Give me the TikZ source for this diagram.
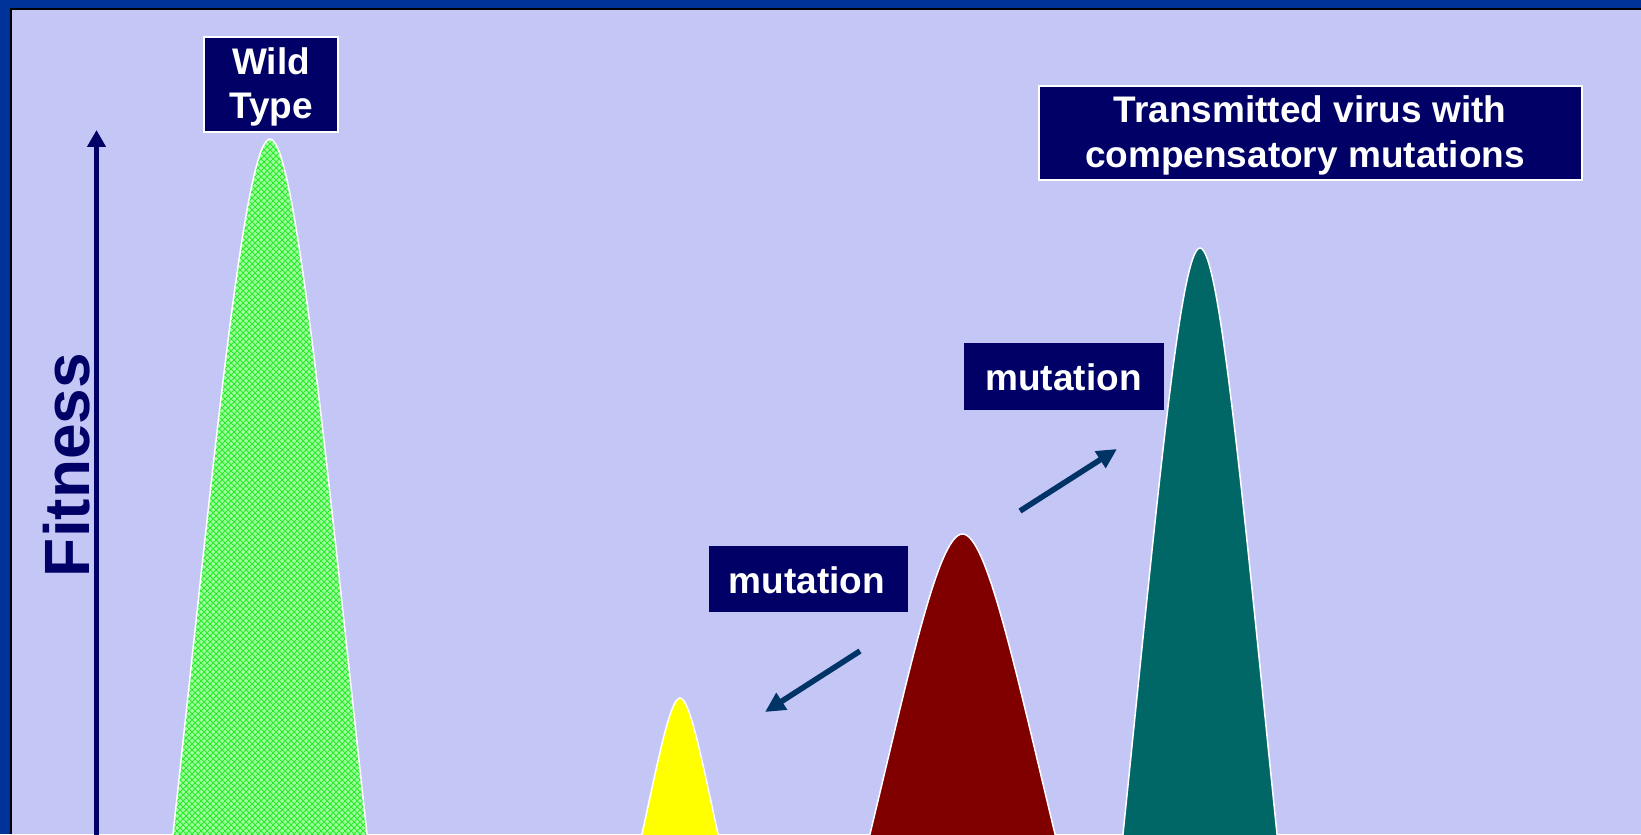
\documentclass[tikz,border=0pt]{standalone}
\usepackage{fontspec}
\setmainfont{Liberation Sans}
\usetikzlibrary{arrows.meta,patterns}
\definecolor{frameblue}{RGB}{0,51,153}
\definecolor{bglav}{RGB}{196,198,246}
\definecolor{navy}{RGB}{0,0,102}
\definecolor{arrblue}{RGB}{0,51,102}
\definecolor{wtgreen}{RGB}{160,255,160}
\definecolor{wtline}{RGB}{40,235,40}
\definecolor{peakyellow}{RGB}{255,255,0}
\definecolor{peakred}{RGB}{128,0,0}
\definecolor{peakteal}{RGB}{0,102,102}
\tikzset{
  labelbox/.style={fill=navy, inner sep=0pt},
  framedbox/.style={labelbox, draw=white, line width=0.6pt},
  boxtext/.style={text=white, font=\bfseries\fontsize{18.5}{22}\selectfont, inner sep=0pt, anchor=base},
  peakline/.style={draw=white, line width=0.75pt},
  mutarrow/.style={draw=arrblue, line width=2.8pt, -{Triangle[length=10pt,width=9.5pt]}},
  axisarrow/.style={draw=navy, line width=2.8pt, -{Triangle[length=8.5pt,width=9pt]}},
}
\begin{document}
\begin{tikzpicture}[x=0.5pt,y=-0.5pt]
\useasboundingbox (0,0) rectangle (1641,834);
\clip (0,0) rectangle (1641,834);
% frame and background
\fill[frameblue] (0,0) rectangle (1641,834);
\fill[black] (10,8) rectangle (1641,834);
\fill[bglav] (12,10) rectangle (1641,834);
% wild type peak
\path[peakline, pattern=crosshatch, pattern color=wtline, preaction={fill=wtgreen}]
  (173,834) .. controls (214.7,451.75) and (244.8,139) .. (270,139)
  .. controls (295.2,139) and (325.3,451.75) .. (367,834)
  -- (369.8,860) -- (170.2,860) -- cycle;
% yellow peak
\path[peakline, fill=peakyellow]
  (642,834) .. controls (658.3,759.2) and (670.1,698) .. (680,698)
  .. controls (689.9,698) and (701.7,759.2) .. (718,834)
  -- (723.7,860) -- (636.3,860) -- cycle;
% red peak
\path[peakline, fill=peakred]
  (870,834) .. controls (909.8,669) and (938.45,534) .. (962.5,534)
  .. controls (986.55,534) and (1015.2,669) .. (1055,834)
  -- (1061.25,860) -- (863.75,860) -- cycle;
% teal peak
\path[peakline, fill=peakteal]
  (1123,834) .. controls (1156.1,511.7) and (1180,248) .. (1200,248)
  .. controls (1220,248) and (1243.9,511.7) .. (1277,834)
  -- (1279.7,860) -- (1120.3,860) -- cycle;
% fitness axis
\coordinate (axb) at (96.5,850);
\coordinate (axt) at (96.5,130);
\draw[axisarrow] (axb) -- (axt);
\node[text=navy, font=\bfseries\fontsize{32}{38}\selectfont, rotate=90, anchor=base, inner sep=0pt] (fit) at (89,465) {Fitness};
% labels
\node[framedbox, minimum width=67pt, minimum height=47.5pt] (wt) at (271,84.5) {};
\node[boxtext] (wtA) at (271,75) {Wild};
\node[boxtext] (wtB) at (271,119) {Type};
\node[framedbox, minimum width=271.5pt, minimum height=47pt] (tv) at (1310.5,133) {};
\node[boxtext] (tvA) at (1310,122.5) {Transmitted virus with};
\node[boxtext] (tvB) at (1305,167.5) {compensatory mutations};
\node[labelbox, minimum width=99.5pt, minimum height=33pt] (mu1) at (808,579) {};
\node[boxtext] (mu1t) at (807,593) {mutation};
\node[labelbox, minimum width=100pt, minimum height=33.5pt] (mu2) at (1064,376.5) {};
\node[boxtext] (mu2t) at (1063.5,390.5) {mutation};
% mutation arrows
\coordinate (m1s) at (860,651);
\coordinate (m1e) at (765,712);
\draw[mutarrow] (m1s) -- (m1e);
\coordinate (m2s) at (1020,511);
\coordinate (m2e) at (1117,449);
\draw[mutarrow] (m2s) -- (m2e);
\end{tikzpicture}
\end{document}
